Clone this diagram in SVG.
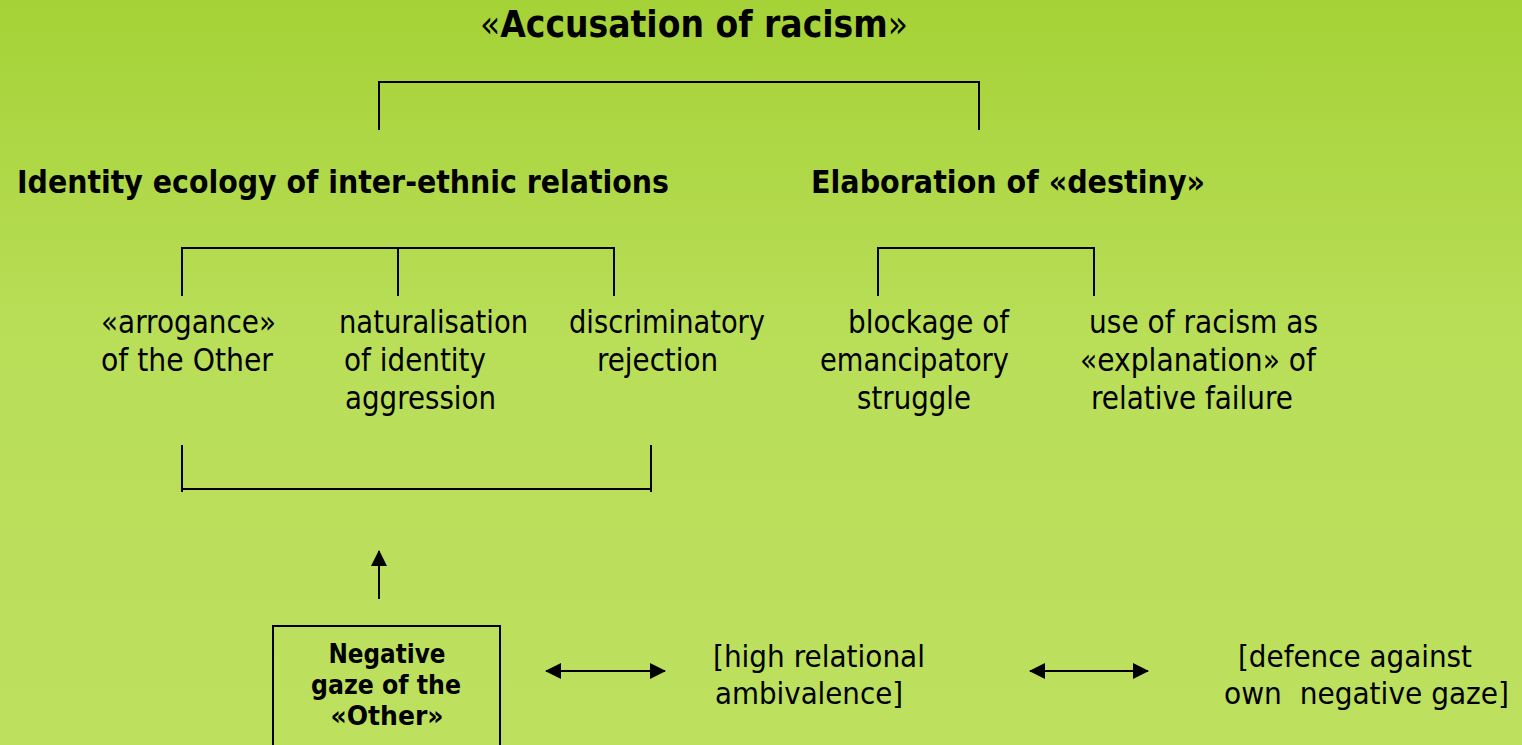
<svg xmlns="http://www.w3.org/2000/svg" width="1522" height="745" viewBox="0 0 1522 745">
<defs>
<linearGradient id="bg" x1="0" y1="0" x2="0" y2="1">
<stop offset="0" stop-color="#a5d236"/>
<stop offset="0.45" stop-color="#b9de58"/>
<stop offset="1" stop-color="#bde05f"/>
</linearGradient>
<marker id="ah" viewBox="0 0 16 16" refX="15" refY="8" markerWidth="16" markerHeight="16" markerUnits="userSpaceOnUse" orient="auto-start-reverse">
<path d="M0,0 L16,8 L0,16 Z" fill="#000"/>
</marker>
<style>
text{font-family:"DejaVu Sans","Liberation Sans",sans-serif;fill:#000}
.t{font-size:38px;font-weight:bold}
.h{font-size:32px;font-weight:bold}
.r{font-size:32px}
.a{font-size:30px}
.b{font-size:26px;font-weight:bold}
.ln{stroke:#000;stroke-width:2;fill:none}
</style>
</defs>
<rect width="1522" height="745" fill="url(#bg)"/>

<g id="title">
<text class="t" x="480" y="37" textLength="428" lengthAdjust="spacingAndGlyphs"><tspan font-weight="normal">«</tspan>Accusation of racism<tspan font-weight="normal">»</tspan></text>
</g>

<g id="identity-ecology">
<text class="h" x="17" y="193" textLength="652" lengthAdjust="spacingAndGlyphs">Identity ecology of inter-ethnic relations</text>
</g>
<g id="elaboration-destiny">
<text class="h" x="811" y="193" textLength="394" lengthAdjust="spacingAndGlyphs">Elaboration of «destiny»</text>
</g>

<g id="arrogance">
<text class="r" x="101" y="333" textLength="175" lengthAdjust="spacingAndGlyphs">«arrogance»</text>
<text class="r" x="101" y="371" textLength="172" lengthAdjust="spacingAndGlyphs">of the Other</text>
</g>
<g id="naturalisation">
<text class="r" x="339" y="333" textLength="189" lengthAdjust="spacingAndGlyphs">naturalisation</text>
<text class="r" x="344" y="371" textLength="142" lengthAdjust="spacingAndGlyphs">of identity</text>
<text class="r" x="345" y="409" textLength="151" lengthAdjust="spacingAndGlyphs">aggression</text>
</g>
<g id="discriminatory">
<text class="r" x="569" y="333" textLength="196" lengthAdjust="spacingAndGlyphs">discriminatory</text>
<text class="r" x="597" y="371" textLength="121" lengthAdjust="spacingAndGlyphs">rejection</text>
</g>
<g id="blockage">
<text class="r" x="848" y="333" textLength="161" lengthAdjust="spacingAndGlyphs">blockage of</text>
<text class="r" x="820" y="371" textLength="189" lengthAdjust="spacingAndGlyphs">emancipatory</text>
<text class="r" x="857" y="409" textLength="114" lengthAdjust="spacingAndGlyphs">struggle</text>
</g>
<g id="use-of-racism">
<text class="r" x="1089" y="333" textLength="229" lengthAdjust="spacingAndGlyphs">use of racism as</text>
<text class="r" x="1080" y="371" textLength="236" lengthAdjust="spacingAndGlyphs">«explanation» of</text>
<text class="r" x="1091" y="409" textLength="202" lengthAdjust="spacingAndGlyphs">relative failure</text>
</g>

<g id="negative-gaze">
<rect x="273" y="626" width="227" height="130" class="ln"/>
<text class="b" x="387" y="663" text-anchor="middle" textLength="117" lengthAdjust="spacingAndGlyphs">Negative</text>
<text class="b" x="386" y="694" text-anchor="middle" textLength="150" lengthAdjust="spacingAndGlyphs">gaze of the</text>
<text class="b" x="387" y="725" text-anchor="middle" textLength="113" lengthAdjust="spacingAndGlyphs">«Other»</text>
</g>
<g id="ambivalence">
<text class="a" x="713" y="667" textLength="212" lengthAdjust="spacingAndGlyphs">[high relational</text>
<text class="a" x="715" y="704" textLength="188" lengthAdjust="spacingAndGlyphs">ambivalence]</text>
</g>
<g id="defence">
<text class="a" x="1238" y="667" textLength="234" lengthAdjust="spacingAndGlyphs">[defence against</text>
<text class="a" x="1224" y="704" textLength="285" lengthAdjust="spacingAndGlyphs" xml:space="preserve">own  negative gaze]</text>
</g>

<g id="connectors">
<path class="ln" d="M379,130 V82 H979 V130"/>
<path class="ln" d="M182,296 V248 H614 V296 M398,248 V296"/>
<path class="ln" d="M878,296 V248 H1094 V296"/>
<path class="ln" d="M182,445 V492 M182,489 H651 M651,445 V492"/>
<line class="ln" x1="379" y1="599" x2="379" y2="551" marker-end="url(#ah)"/>
<line class="ln" x1="546" y1="671" x2="665" y2="671" marker-start="url(#ah)" marker-end="url(#ah)"/>
<line class="ln" x1="1030" y1="671" x2="1148" y2="671" marker-start="url(#ah)" marker-end="url(#ah)"/>
</g>
</svg>
